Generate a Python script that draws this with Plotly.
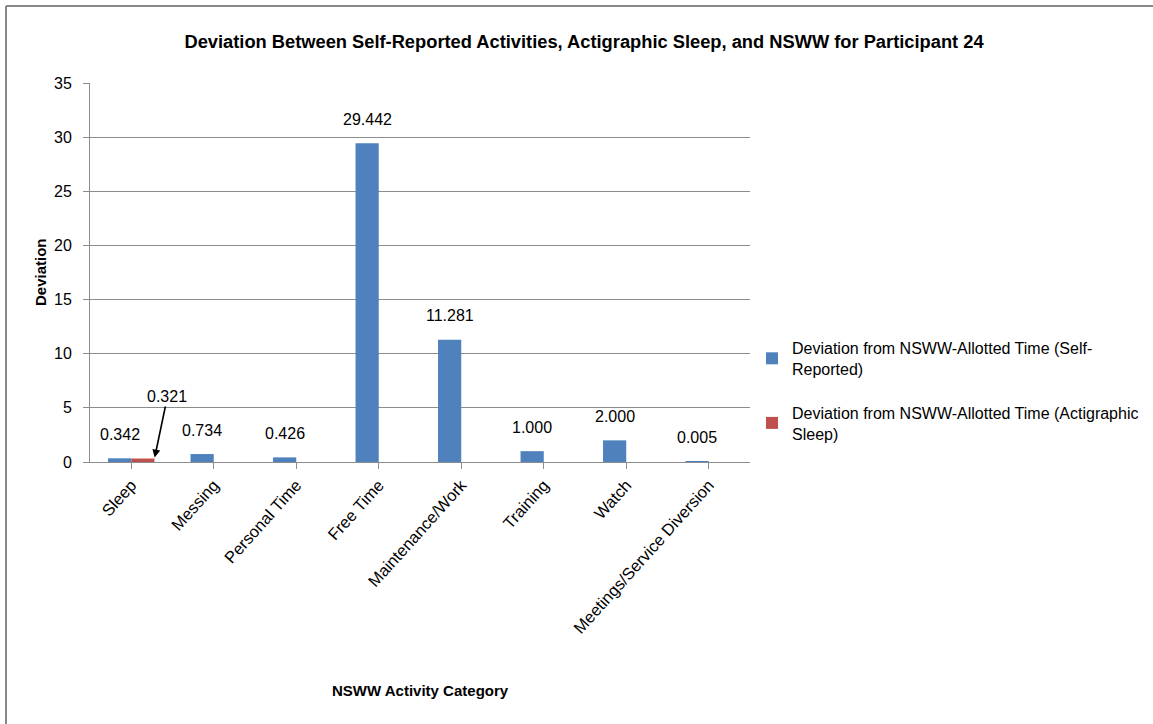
import plotly.graph_objects as go

categories = ["Sleep", "Messing", "Personal Time", "Free Time", "Maintenance/Work",
              "Training", "Watch", "Meetings/Service Diversion"]
self_reported = [0.342, 0.734, 0.426, 29.442, 11.281, 1.000, 2.000, 0.005]
actigraphic = [0.321, None, None, None, None, None, None, None]
series_names = ["Deviation from NSWW-Allotted Time (Self-<br>Reported)",
                "Deviation from NSWW-Allotted Time (Actigraphic<br>Sleep)"]
y_ticks = [0, 5, 10, 15, 20, 25, 30, 35]

W, H = 1153, 724
L, R, T, B = 90, 750, 83, 462
FONT = "Liberation Sans, Arial, sans-serif"
BLUE = "#4F81BD"
RED = "#C0504D"
GRID = "#8C8C8C"
BARGAP = 0.437

def px_x(p):
    return (p - L) / (R - L)

def px_y(p):
    return (B - p) / (B - T)

fig = go.Figure()
fig.add_trace(go.Bar(x=list(range(len(categories))), y=self_reported, name=series_names[0],
                     marker=dict(color=BLUE, line=dict(width=0)), legendgroup="a"))
fig.add_trace(go.Bar(x=list(range(len(categories))), y=actigraphic, name=series_names[1],
                     marker=dict(color=RED, line=dict(width=0)), legendgroup="b"))

annotations = []
half = (1 - BARGAP) / 4.0
for i, v in enumerate(self_reported):
    annotations.append(dict(x=i - half, y=v, xref="x", yref="y", text=f"{v:.3f}",
                            showarrow=False, yanchor="middle", yshift=24,
                            font=dict(family=FONT, size=16, color="#000")))
# callout for actigraphic sleep value
annotations.append(dict(x=0 + 2 * half, y=actigraphic[0], xref="x", yref="y",
                        text=f"{actigraphic[0]:.3f}", showarrow=True,
                        arrowhead=2, arrowsize=1, arrowwidth=1.6, arrowcolor="#000",
                        ax=13, ay=-62, standoff=1,
                        font=dict(family=FONT, size=16, color="#000")))
# axis titles
annotations.append(dict(x=0.5, y=px_y(690), xref="paper", yref="paper",
                        text="<b>NSWW Activity Category</b>", showarrow=False,
                        xanchor="center", yanchor="middle",
                        font=dict(family=FONT, size=15, color="#000")))
annotations.append(dict(x=px_x(40), y=px_y(272), xref="paper", yref="paper",
                        text="<b>Deviation</b>", showarrow=False, textangle=-90,
                        xanchor="center", yanchor="middle",
                        font=dict(family=FONT, size=15, color="#000")))

shapes = [
    dict(type="line", xref="paper", yref="paper", x0=px_x(6), x1=px_x(1153),
         y0=px_y(6), y1=px_y(6), line=dict(color="#888888", width=2)),
    dict(type="line", xref="paper", yref="paper", x0=px_x(6), x1=px_x(6),
         y0=px_y(6), y1=px_y(724), line=dict(color="#888888", width=2)),
]

fig.update_layout(
    width=W, height=H,
    margin=dict(l=L, r=W - R, t=T, b=H - B, pad=0, autoexpand=False),
    paper_bgcolor="white", plot_bgcolor="white",
    barmode="group", bargap=BARGAP, bargroupgap=0,
    title=dict(text="<b>Deviation Between Self-Reported Activities, Actigraphic Sleep, and NSWW for Participant 24</b>",
               x=584 / W, xanchor="center", y=1 - 42 / H, yanchor="middle",
               font=dict(family=FONT, size=18.3, color="#000")),
    font=dict(family=FONT, size=16, color="#000"),
    showlegend=True,
    legend=dict(x=px_x(752), xanchor="left", y=px_y(331), yanchor="top",
                font=dict(family=FONT, size=16, color="#000"),
                tracegroupgap=20, itemwidth=30, bgcolor="rgba(0,0,0,0)"),
    xaxis=dict(tickmode="array", tickvals=list(range(len(categories))), ticktext=categories,
               tickangle=-48, showgrid=False, showline=True, linecolor=GRID, linewidth=1,
               ticks="outside", ticklen=6, tickcolor=GRID, tickson="boundaries",
               range=[-0.5, len(categories) - 0.5], zeroline=False,
               tickfont=dict(family=FONT, size=16.5, color="#000")),
    yaxis=dict(range=[0, 35], tickvals=y_ticks, showgrid=True, gridcolor=GRID, gridwidth=1,
               showline=True, linecolor=GRID, linewidth=1, ticks="outside", ticklen=6,
               tickcolor=GRID, zeroline=False, ticklabelstandoff=8,
               tickfont=dict(family=FONT, size=16, color="#000")),
    annotations=annotations,
    shapes=shapes,
)

fig.write_html("out.html", config={"displayModeBar": False},
               post_script="document.body.style.margin='0';document.body.style.padding='0';")
